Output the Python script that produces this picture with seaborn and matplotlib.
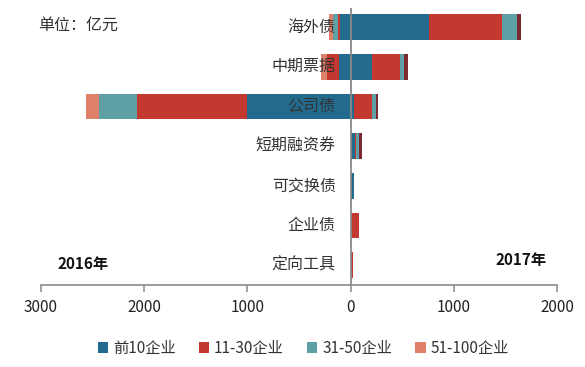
import matplotlib
matplotlib.use('Agg')
import matplotlib.pyplot as plt
import seaborn as sns
import numpy as np
from matplotlib.patches import Patch

# bond types, top to bottom
categories = ['海外债', '中期票据', '公司债', '短期融资券', '可交换债', '企业债', '定向工具']
groups = ['前10企业', '11-30企业', '31-50企业', '51-100企业']

# 2016 (drawn to the left), 亿元
top10_2016 = [105, 115, 1005, 0, 0, 0, 0]
r11_30_2016 = [18, 112, 1065, 0, 0, 0, 0]
r31_50_2016 = [48, 5, 365, 0, 0, 0, 0]
r51_100_2016 = [42, 55, 130, 0, 0, 0, 0]

# 2017 (drawn to the right), 亿元
top10_2017 = [760, 210, 35, 45, 32, 5, 3]
r11_30_2017 = [705, 265, 175, 10, 0, 72, 18]
r31_50_2017 = [145, 40, 35, 22, 0, 0, 0]
r51_100_2017 = [40, 40, 25, 35, 0, 0, 0]

colors_2016 = ['#226a8e', '#c3382f', '#5f9fa6', '#df8068']
colors_2017 = ['#226a8e', '#c3382f', '#5f9fa6', '#7a2a30']

sns.set_style('white')
plt.rcParams['font.family'] = ['Noto Sans CJK SC', 'DejaVu Sans']

fig = plt.figure(figsize=(5.85, 3.67), dpi=100)
ax = fig.add_axes([41 / 585, 1 - 285 / 367, (557 - 41) / 585, (285 - 8) / 367])


# stacked bars: draw cumulative totals from the outside in
def draw_stack(series, colors, sign):
    cum = np.cumsum(np.array(series), axis=0)
    for k in range(len(series) - 1, -1, -1):
        sns.barplot(x=sign * cum[k], y=categories, orient='h', color=colors[k],
                    width=0.65, saturation=1, linewidth=0, ax=ax)


draw_stack([top10_2016, r11_30_2016, r31_50_2016, r51_100_2016], colors_2016, -1)
draw_stack([top10_2017, r11_30_2017, r31_50_2017, r51_100_2017], colors_2017, 1)

ax.axvline(0, color='#8a8a8a', lw=1.3, zorder=5)

ax.set_xlim(-3000, 2000)
ax.set_ylim(6.5, -0.48)
ticks = [-3000, -2000, -1000, 0, 1000, 2000]
ax.set_xticks(ticks)
ax.set_xticklabels([str(abs(t)) for t in ticks], fontsize=11, color='#222222')
ax.set_yticks([])
ax.set_xlabel('')
ax.set_ylabel('')
ax.tick_params(axis='x', direction='out', length=5, width=1.1, color='#8a8a8a', pad=5, bottom=True)
for side in ['top', 'right', 'left']:
    ax.spines[side].set_visible(False)
ax.spines['bottom'].set_color('#8a8a8a')
ax.spines['bottom'].set_linewidth(1.2)

for i, cat in enumerate(categories):
    ax.text(-145, i, cat, ha='right', va='center', fontsize=11.5, color='#333333', zorder=6)

fig.text(38 / 585, 1 - 25 / 367, '单位：亿元', fontsize=11.5, color='#333333', va='center')
fig.text(57 / 585, 1 - 264 / 367, '2016年', fontsize=11, fontweight='bold', color='#111111', va='center')
fig.text(495 / 585, 1 - 260 / 367, '2017年', fontsize=11, fontweight='bold', color='#111111', va='center')

handles = [Patch(facecolor=c, edgecolor='none') for c in colors_2016]
fig.legend(handles, groups, loc='center left', bbox_to_anchor=(84 / 585, 1 - 348 / 367),
           ncol=4, frameon=False, fontsize=11, handlelength=0.7, handleheight=0.7,
           handletextpad=0.3, columnspacing=1.5, labelcolor='#333333')

fig.savefig('out.png', dpi=100)
